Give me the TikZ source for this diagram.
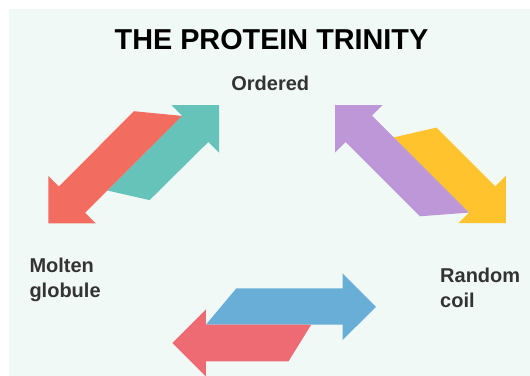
\documentclass[tikz,border=0pt]{standalone}
\usepackage{fontspec}
\setmainfont{Liberation Sans}
\definecolor{bgc}{HTML}{F1F9F6}
\definecolor{redA}{HTML}{F36C60}
\definecolor{tealA}{HTML}{65C3BA}
\definecolor{purpA}{HTML}{BE97D9}
\definecolor{yellA}{HTML}{FFC32D}
\definecolor{blueA}{HTML}{69AED6}
\definecolor{redB}{HTML}{EE6B74}
\definecolor{labc}{HTML}{333333}
\tikzset{
  lab/.style={anchor=base west, inner sep=0pt, text=labc, font=\fontsize{20}{25}\selectfont\bfseries},
  ttl/.style={anchor=base, inner sep=0pt, text=black, font=\fontsize{28.8}{34}\selectfont\bfseries}
}
\begin{document}
\begin{tikzpicture}[x=1pt,y=-1pt]
\useasboundingbox (0,0) rectangle (530,375);
\clip (0,0) rectangle (530,375);
\fill[bgc] (9,9) rectangle (530,376);
% title and labels
\node[ttl] (title) at (271.5,49.3) {THE PROTEIN TRINITY};
\node[lab] (ordered) at (231.2,90.3) {Ordered};
\node[lab] (molten) at (29.3,272.8) {Molten};
\node[lab] (globule) at (29.3,297.8) {globule};
\node[lab] (random) at (440,282.8) {Random};
\node[lab] (coil) at (440,307.8) {coil};
% top-left pair
\fill[tealA] (219,105) -- (171.5,105) -- (182.1,115.6) -- (107.3,190.5)
  -- (149.6,200.1) -- (208.4,141.9) -- (219,152.5) -- cycle;
\fill[redA] (48.25,223.35) -- (48.25,175.85) -- (58.85,186.45) -- (134,111.2)
  -- (181.9,115.9) -- (85.15,212.75) -- (95.75,223.35) -- cycle;
% top-right pair
\fill[yellA] (505.8,223.2) -- (458.3,223.2) -- (468.9,212.6) -- (393.7,137.4)
  -- (436.4,127.6) -- (495.2,186.3) -- (505.8,175.7) -- cycle;
\fill[purpA] (335,105) -- (382.5,105) -- (371.9,115.6) -- (468.9,212.6)
  -- (420,216.3) -- (345.6,141.9) -- (335,152.5) -- cycle;
% bottom pair
\fill[blueA] (376,306.8) -- (342.5,273.4) -- (342.5,288.4) -- (236.3,288.4)
  -- (205.9,324.7) -- (342.5,324.7) -- (342.5,340.2) -- cycle;
\fill[redB] (172.3,343) -- (205.8,309.6) -- (205.8,324.7) -- (311.2,324.7)
  -- (288.5,361.3) -- (205.8,361.3) -- (205.8,376.5) -- cycle;
\end{tikzpicture}
\end{document}
